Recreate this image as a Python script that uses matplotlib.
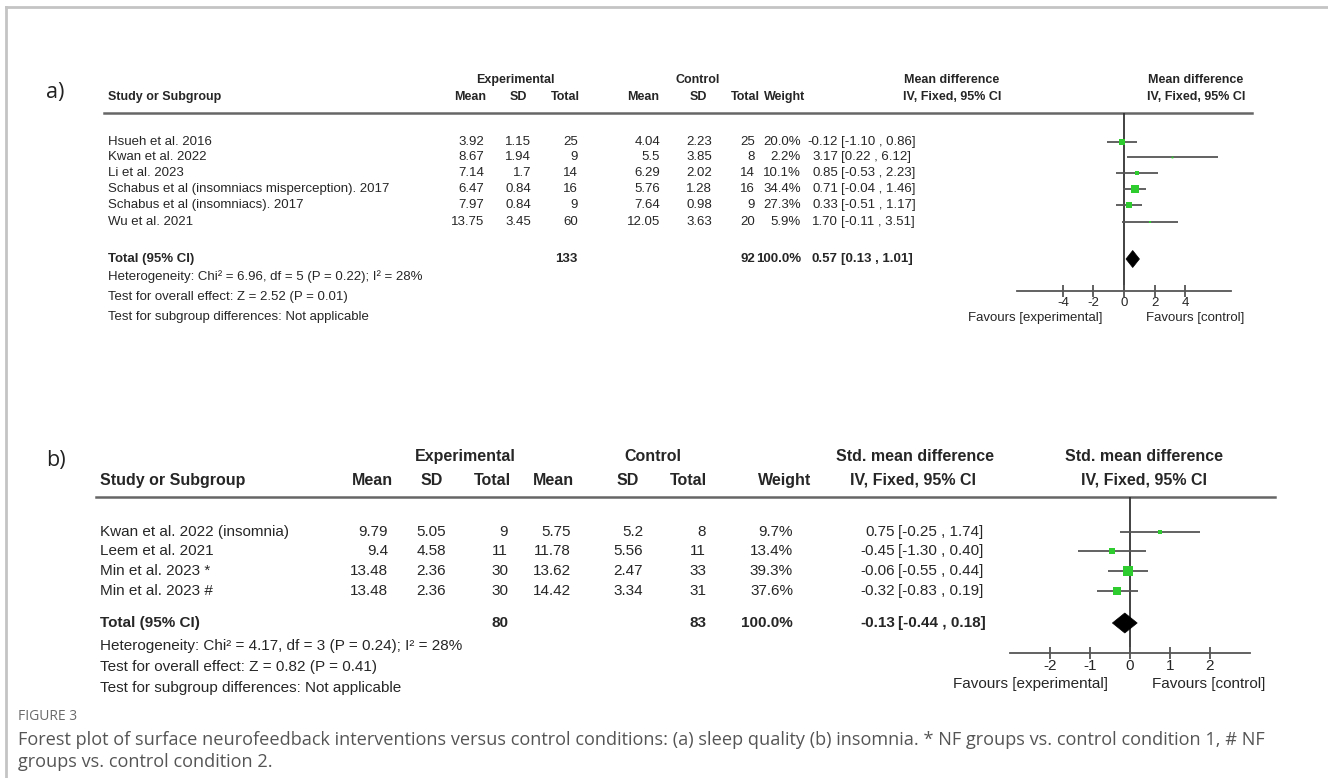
import matplotlib
matplotlib.use("Agg")
import matplotlib.pyplot as plt
from matplotlib.patches import Polygon
from matplotlib.lines import Line2D

plt.rcParams['font.family'] = ['Liberation Sans', 'DejaVu Sans']

# ---------------- data: (a) sleep quality ----------------
studies_a = ["Hsueh et al. 2016", "Kwan et al. 2022", "Li et al. 2023",
             "Schabus et al (insomniacs misperception). 2017",
             "Schabus et al (insomniacs). 2017", "Wu et al. 2021"]
exp_mean_a = [3.92, 8.67, 7.14, 6.47, 7.97, 13.75]
exp_sd_a = [1.15, 1.94, 1.7, 0.84, 0.84, 3.45]
exp_n_a = [25, 9, 14, 16, 9, 60]
ctl_mean_a = [4.04, 5.5, 6.29, 5.76, 7.64, 12.05]
ctl_sd_a = [2.23, 3.85, 2.02, 1.28, 0.98, 3.63]
ctl_n_a = [25, 8, 14, 16, 9, 20]
weight_a = [20.0, 2.2, 10.1, 34.4, 27.3, 5.9]
est_a = [-0.12, 3.17, 0.85, 0.71, 0.33, 1.70]
lo_a = [-1.10, 0.22, -0.53, -0.04, -0.51, -0.11]
hi_a = [0.86, 6.12, 2.23, 1.46, 1.17, 3.51]
total_a = dict(n_exp=133, n_ctl=92, weight=100.0, est=0.57, lo=0.13, hi=1.01)
stats_a = ["Heterogeneity: Chi\u00b2 = 6.96, df = 5 (P = 0.22); I\u00b2 = 28%",
           "Test for overall effect: Z = 2.52 (P = 0.01)",
           "Test for subgroup differences: Not applicable"]
ticks_a = [-4, -2, 0, 2, 4]
xlim_a = (-7, 7)

# ---------------- data: (b) insomnia ----------------
studies_b = ["Kwan et al. 2022 (insomnia)", "Leem et al. 2021",
             "Min et al. 2023 *", "Min et al. 2023 #"]
exp_mean_b = [9.79, 9.4, 13.48, 13.48]
exp_sd_b = [5.05, 4.58, 2.36, 2.36]
exp_n_b = [9, 11, 30, 30]
ctl_mean_b = [5.75, 11.78, 13.62, 14.42]
ctl_sd_b = [5.2, 5.56, 2.47, 3.34]
ctl_n_b = [8, 11, 33, 31]
weight_b = [9.7, 13.4, 39.3, 37.6]
est_b = [0.75, -0.45, -0.06, -0.32]
lo_b = [-0.25, -1.30, -0.55, -0.83]
hi_b = [1.74, 0.40, 0.44, 0.19]
total_b = dict(n_exp=80, n_ctl=83, weight=100.0, est=-0.13, lo=-0.44, hi=0.18)
stats_b = ["Heterogeneity: Chi\u00b2 = 4.17, df = 3 (P = 0.24); I\u00b2 = 28%",
           "Test for overall effect: Z = 0.82 (P = 0.41)",
           "Test for subgroup differences: Not applicable"]
ticks_b = [-2, -1, 0, 1, 2]
xlim_b = (-3, 3)

caption_title = "FIGURE 3"
caption_lines = [
    "Forest plot of surface neurofeedback interventions versus control conditions: (a) sleep quality (b) insomnia. * NF groups vs. control condition 1, # NF",
    "groups vs. control condition 2."]

W, H = 1328, 778
TXT = "#262626"
LINE = "#555555"
GREEN = "#2ecc2e"

fig = plt.figure(figsize=(W / 100, H / 100), dpi=100)
bg = fig.add_axes([0, 0, 1, 1])
bg.set_xlim(0, W)
bg.set_ylim(H, 0)
bg.axis("off")

# frame around the figure block
bg.add_line(Line2D([6, W], [7, 7], color="#c4c4c4", lw=2))
bg.add_line(Line2D([6, 6], [7, H], color="#c4c4c4", lw=2))


def fmt(v):
    return f"{v:g}"


def panel(L):
    fs = L["fs"]
    # panel letter
    bg.text(L["letter_x"], L["letter_y"], L["letter"], fontsize=L["letter_fs"],
            family=["Open Sans", "DejaVu Sans"], color="#222222", va="center", ha="left")
    # group headers
    hy1, hy2 = L["hy1"], L["hy2"]
    for txt, x in L["group_heads"]:
        bg.text(x, hy1, txt, fontsize=L["hfs"], weight="bold", color=TXT, ha="center", va="center")
    bg.text(L["study_x"], hy2, "Study or Subgroup", fontsize=L["hfs"], weight="bold",
            color=TXT, ha="left", va="center")
    for txt, x in L["col_heads"]:
        bg.text(x, hy2, txt, fontsize=L["hfs"], weight="bold", color=TXT, ha="center", va="center")
    # rule under the header
    bg.add_line(Line2D([L["rule_x0"], L["rule_x1"]], [L["rule_y"], L["rule_y"]],
                       color="#666666", lw=1.8))

    cols = L["cols"]
    d = L["data"]
    for i, name in enumerate(d["studies"]):
        y = L["rows"][i]
        bg.text(L["study_x"], y, name, fontsize=fs, color=TXT, ha="left", va="center")
        vals = [fmt(d["em"][i]), fmt(d["es"][i]), str(d["en"][i]),
                fmt(d["cm"][i]), fmt(d["cs"][i]), str(d["cn"][i]),
                f"{d['w'][i]:.1f}%"]
        for v, x in zip(vals, cols):
            bg.text(x, y, v, fontsize=fs, color=TXT, ha="right", va="center")
        bg.text(L["est_x"], y, f"{d['est'][i]:.2f}", fontsize=fs, color=TXT,
                ha="right", va="center")
        bg.text(L["est_x"] + 3, y, f"[{d['lo'][i]:.2f} , {d['hi'][i]:.2f}]",
                fontsize=fs, color=TXT, ha="left", va="center")

    t = d["total"]
    ty = L["total_y"]
    bg.text(L["study_x"], ty, "Total (95% CI)", fontsize=fs, weight="bold",
            color=TXT, ha="left", va="center")
    bg.text(cols[2], ty, str(t["n_exp"]), fontsize=fs, weight="bold", color=TXT, ha="right", va="center")
    bg.text(cols[5], ty, str(t["n_ctl"]), fontsize=fs, weight="bold", color=TXT, ha="right", va="center")
    bg.text(cols[6], ty, f"{t['weight']:.1f}%", fontsize=fs, weight="bold", color=TXT, ha="right", va="center")
    bg.text(L["est_x"], ty, f"{t['est']:.2f}", fontsize=fs, weight="bold", color=TXT, ha="right", va="center")
    bg.text(L["est_x"] + 3, ty, f"[{t['lo']:.2f} , {t['hi']:.2f}]", fontsize=fs,
            weight="bold", color=TXT, ha="left", va="center")
    for s, y in zip(d["stats"], L["stats_y"]):
        bg.text(L["study_x"], y, s, fontsize=fs, color=TXT, ha="left", va="center")

    # forest plot axes (x in effect units, y in figure pixels)
    fx0, fx1 = L["fx"]
    ytop, ybot = L["rule_y"], L["axis_y"]
    ax = fig.add_axes([fx0 / W, 1 - ybot / H, (fx1 - fx0) / W, (ybot - ytop) / H])
    ax.patch.set_alpha(0)
    ax.set_xlim(*L["xlim"])
    ax.set_ylim(ybot, ytop)
    for sp in ("top", "right", "left"):
        ax.spines[sp].set_visible(False)
    ax.spines["bottom"].set_color(LINE)
    ax.spines["bottom"].set_linewidth(1.3)
    ax.set_yticks([])
    ax.set_xticks(L["ticks"])
    ax.set_xticklabels([str(v) for v in L["ticks"]])
    ax.tick_params(axis="x", direction="inout", length=8, width=1.3, color=LINE,
                   labelsize=L["tfs"], labelcolor=TXT, pad=0)
    ax.axvline(0, color="#333333", lw=1.3, zorder=1)
    for i in range(len(d["studies"])):
        y = L["rows"][i]
        ax.plot([d["lo"][i], d["hi"][i]], [y, y], color=LINE, lw=1.3, zorder=2,
                solid_capstyle="butt")
        side = L["sq_k"] * d["w"][i] ** 0.5
        ax.plot([d["est"][i]], [y], marker="s", ms=side * 0.72, color=GREEN,
                mec=GREEN, mew=0, zorder=3)
    hh = L["dia_h"] / 2
    ax.add_patch(Polygon([(t["lo"], ty), (t["est"], ty - hh), (t["hi"], ty), (t["est"], ty + hh)],
                         closed=True, facecolor="black", edgecolor="black", lw=0.5, zorder=4))
    cx = L["fav_mid"]
    bg.text(cx - L["fav_gap"], L["fav_y"], "Favours [experimental]", fontsize=L["tfs"],
            color=TXT, ha="right", va="center")
    bg.text(cx + L["fav_gap"], L["fav_y"], "Favours [control]", fontsize=L["tfs"],
            color=TXT, ha="left", va="center")


layout_a = dict(
    letter="a)", letter_x=46, letter_y=92, letter_fs=15.5,
    fs=9.5, hfs=9, tfs=9.5,
    hy1=80, hy2=97,
    group_heads=[("Experimental", 515), ("Control", 698),
                 ("Mean difference", 952), ("Mean difference", 1196)],
    col_heads=[("Mean", 470), ("SD", 518), ("Total", 565), ("Mean", 643),
               ("SD", 698), ("Total", 745), ("Weight", 785),
               ("IV, Fixed, 95% CI", 952), ("IV, Fixed, 95% CI", 1196)],
    study_x=108, rule_x0=104, rule_x1=1252, rule_y=113,
    cols=[484, 531, 578, 660, 712, 755, 801], est_x=838,
    rows=[142, 157, 173, 189, 205, 222], total_y=259, stats_y=[277, 297, 317],
    fx=(1017, 1231), xlim=xlim_a, ticks=ticks_a, axis_y=291,
    sq_k=1.2, dia_h=17, fav_mid=1124, fav_gap=22, fav_y=318,
    data=dict(studies=studies_a, em=exp_mean_a, es=exp_sd_a, en=exp_n_a,
              cm=ctl_mean_a, cs=ctl_sd_a, cn=ctl_n_a, w=weight_a,
              est=est_a, lo=lo_a, hi=hi_a, total=total_a, stats=stats_a),
)

layout_b = dict(
    letter="b)", letter_x=46, letter_y=460, letter_fs=15.5,
    fs=11, hfs=11.5, tfs=11,
    hy1=456, hy2=480,
    group_heads=[("Experimental", 465), ("Control", 653),
                 ("Std. mean difference", 915), ("Std. mean difference", 1144)],
    col_heads=[("Mean", 372), ("SD", 432), ("Total", 492), ("Mean", 553),
               ("SD", 628), ("Total", 688), ("Weight", 785),
               ("IV, Fixed, 95% CI", 913), ("IV, Fixed, 95% CI", 1144)],
    study_x=100, rule_x0=96, rule_x1=1275, rule_y=497,
    cols=[388, 446, 508, 571, 643, 706, 793], est_x=895,
    rows=[532, 551, 571, 591], total_y=623, stats_y=[646, 667, 688],
    fx=(1010, 1250), xlim=xlim_b, ticks=ticks_b, axis_y=653,
    sq_k=1.45, dia_h=20, fav_mid=1130, fav_gap=22, fav_y=684,
    data=dict(studies=studies_b, em=exp_mean_b, es=exp_sd_b, en=exp_n_b,
              cm=ctl_mean_b, cs=ctl_sd_b, cn=ctl_n_b, w=weight_b,
              est=est_b, lo=lo_b, hi=hi_b, total=total_b, stats=stats_b),
)

panel(layout_a)
panel(layout_b)

# caption
CAP = ["Open Sans", "DejaVu Sans"]
bg.text(18, 716, caption_title, fontsize=10, family=CAP, color="#6a6a6a",
        ha="left", va="center")
for line, y in zip(caption_lines, [740, 762]):
    bg.text(18, y, line, fontsize=13.1, family=CAP, color="#555555",
            ha="left", va="center")

fig.savefig("out.png", dpi=100)
